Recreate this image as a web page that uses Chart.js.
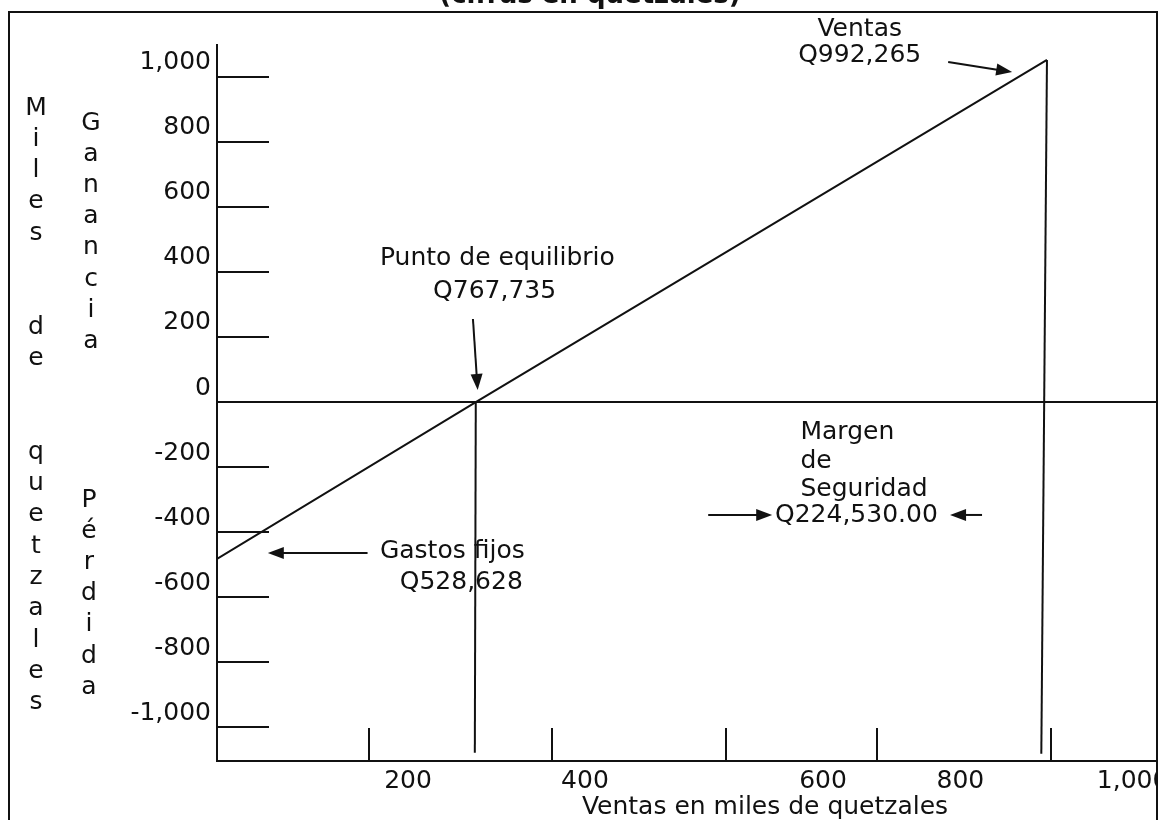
<!DOCTYPE html>
<html>
<head>
<meta charset="utf-8">
<script src="https://cdn.jsdelivr.net/npm/chart.js@4.4.1/dist/chart.umd.min.js"></script>
<style>
html, body { margin: 0; padding: 0; background: #fff; }
canvas { display: block; }
</style>
</head>
<body>
<canvas id="equilibrioChart" width="1158" height="820"></canvas>
<script>
const ctx = document.getElementById("equilibrioChart");

// eje y: miles de quetzales (ganancia arriba, pérdida abajo)
const yTicks = [1000, 800, 600, 400, 200, 0, -200, -400, -600, -800, -1000];
// eje x: en el dibujo original las etiquetas no van a escala
const xTickLabels = ["200", "400", "600", "800", "1,000"];
const xTickAt = [203, 391, 644, 790, 973];
const xTickMarks = [162, 356, 541, 701, 886];

// recta de resultado (de gastos fijos a ventas)
const lineaX = [0, 275, 882];
const lineaY = [-482, 0, 1051];
// verticales en punto de equilibrio y en ventas
const equilibrioX = [275, 274];
const equilibrioY = [0, -1078];
const ventasX = [882, 876];
const ventasY = [1051, -1081];

// textos de las notas (coordenadas en unidades del gráfico)
const notas = [
  { t: "Punto de equilibrio", x: 298, y: 442, a: "center" },
  { t: "Q767,735", x: 295, y: 341, a: "center" },
  { t: "Ventas", x: 683, y: 1146, a: "center" },
  { t: "Q992,265", x: 683, y: 1064, a: "center" },
  { t: "Gastos fijos", x: 327, y: -458, a: "right" },
  { t: "Q528,628", x: 325, y: -556, a: "right" },
  { t: "Margen", x: 620, y: -93, a: "left" },
  { t: "de", x: 620, y: -184, a: "left" },
  { t: "Seguridad", x: 620, y: -270, a: "left" },
  { t: "Q224,530.00", x: 593, y: -349, a: "left" },
];
const flechas = [
  { x0: 272, y0: 255, x1: 277, y1: 37 },
  { x0: 777, y0: 1045, x1: 845, y1: 1014 },
  { x0: 160, y0: -464, x1: 54, y1: -464 },
  { x0: 522, y0: -347, x1: 590, y1: -347 },
  { x0: 813, y0: -347, x1: 779, y1: -347 },
];

const FONT = '25px "DejaVu Sans"';
const INK = "#111";

function serie(xs, ys) {
  return {
    data: xs.map((x, i) => ({ x: x, y: ys[i] })),
    borderColor: INK,
    borderWidth: 2,
    pointRadius: 0,
    tension: 0,
  };
}

function texto_vertical(c, palabra, x, y0, paso) {
  palabra.split("").forEach((ch, i) => {
    if (ch !== " ") c.fillText(ch, x, y0 + i * paso);
  });
}

const dibujo = {
  id: "dibujo",
  afterDraw(chart) {
    const c = chart.ctx;
    const sx = chart.scales.x;
    const sy = chart.scales.y;
    c.save();
    c.strokeStyle = INK;
    c.fillStyle = INK;
    c.lineWidth = 2;

    // marcas cortas de los ejes
    c.beginPath();
    yTicks.filter((v) => v !== 0).forEach((v) => {
      const py = Math.round(sy.getPixelForValue(v));
      c.moveTo(sx.left, py);
      c.lineTo(sx.left + 52, py);
    });
    xTickMarks.forEach((v) => {
      const px = Math.round(sx.getPixelForValue(v));
      c.moveTo(px, sy.bottom);
      c.lineTo(px, sy.bottom - 33);
    });
    c.stroke();

    // flechas
    flechas.forEach((f) => {
      const x0 = sx.getPixelForValue(f.x0), y0 = sy.getPixelForValue(f.y0);
      const x1 = sx.getPixelForValue(f.x1), y1 = sy.getPixelForValue(f.y1);
      const ang = Math.atan2(y1 - y0, x1 - x0);
      c.beginPath();
      c.moveTo(x0, y0);
      c.lineTo(x1 - 12 * Math.cos(ang), y1 - 12 * Math.sin(ang));
      c.stroke();
      c.beginPath();
      c.moveTo(x1, y1);
      c.lineTo(x1 - 16 * Math.cos(ang) + 6 * Math.sin(ang), y1 - 16 * Math.sin(ang) - 6 * Math.cos(ang));
      c.lineTo(x1 - 16 * Math.cos(ang) - 6 * Math.sin(ang), y1 - 16 * Math.sin(ang) + 6 * Math.cos(ang));
      c.closePath();
      c.fill();
    });

    // notas
    c.font = FONT;
    c.textBaseline = "middle";
    notas.forEach((n) => {
      c.textAlign = n.a;
      c.fillText(n.t, sx.getPixelForValue(n.x), sy.getPixelForValue(n.y));
    });

    // título del eje x
    c.textAlign = "center";
    c.fillText("Ventas en miles de quetzales", 765, 807);

    // títulos verticales del eje y
    texto_vertical(c, "Miles  de  quetzales", 36, 108, 31.3);
    texto_vertical(c, "Ganancia", 91, 123, 31.2);
    texto_vertical(c, "Pérdida", 89, 500, 31.2);

    // título cortado arriba
    c.font = 'bold 26px "DejaVu Sans"';
    c.textBaseline = "alphabetic";
    c.fillText("(cifras en quetzales)", 590, 3);

    // marco
    c.lineWidth = 2;
    c.strokeRect(9, 12, 1148, 830);
    c.restore();
  },
};

new Chart(ctx, {
  type: "line",
  data: {
    datasets: [
      serie(lineaX, lineaY),
      serie(equilibrioX, equilibrioY),
      serie(ventasX, ventasY),
    ],
  },
  options: {
    responsive: false,
    animation: false,
    devicePixelRatio: 1,
    layout: { padding: { top: 45, left: 0, right: 0, bottom: 0 } },
    plugins: { legend: { display: false }, tooltip: { enabled: false } },
    scales: {
      x: {
        type: "linear",
        min: 0,
        max: 1000,
        grid: { display: false, drawTicks: false },
        border: { display: true, color: INK, width: 2 },
        afterBuildTicks: (s) => {
          s.ticks = xTickAt.map((v) => ({ value: v }));
        },
        ticks: {
          autoSkip: false,
          maxRotation: 0,
          padding: 5,
          color: INK,
          font: { family: "DejaVu Sans", size: 25 },
          callback: (v, i) => xTickLabels[i],
        },
        afterFit: (s) => {
          s.height = 59;
          s.paddingLeft = 0;
          s.paddingRight = 0;
        },
      },
      y: {
        type: "linear",
        min: -1103,
        max: 1097,
        afterBuildTicks: (s) => {
          s.ticks = yTicks.map((v) => ({ value: v }));
        },
        grid: {
          drawTicks: false,
          lineWidth: 2,
          color: (g) => (g.tick && g.tick.value === 0 ? INK : "rgba(0,0,0,0)"),
        },
        border: { display: true, color: INK, width: 2 },
        ticks: {
          padding: 6,
          labelOffset: -14,
          color: INK,
          font: { family: "DejaVu Sans", size: 25 },
          callback: (v) => v.toLocaleString("en-US"),
        },
        afterFit: (s) => {
          s.width = 217;
          s.paddingTop = 0;
          s.paddingBottom = 0;
        },
      },
    },
  },
  plugins: [dibujo],
});
</script>
</body>
</html>
